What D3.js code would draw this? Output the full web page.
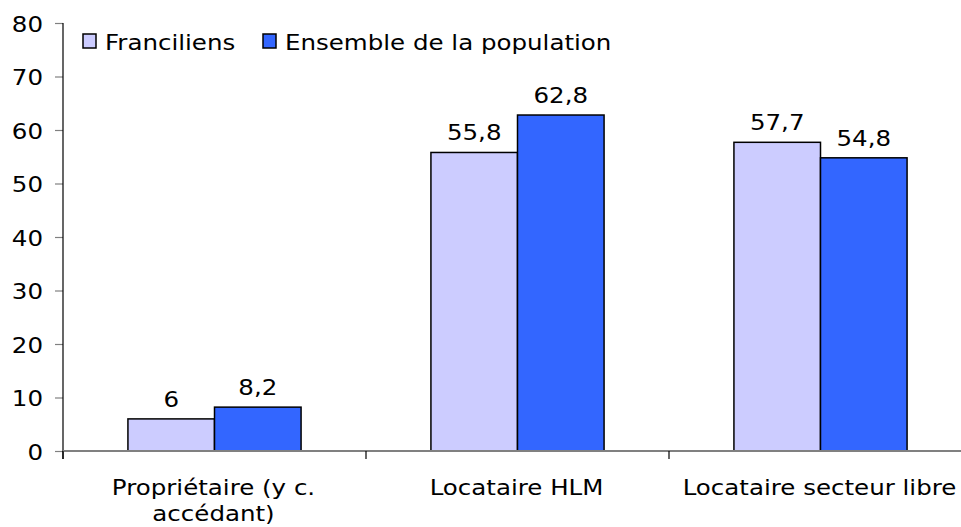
<!DOCTYPE html>
<html>
<head>
<meta charset="utf-8">
<script src="https://cdn.jsdelivr.net/npm/d3@7"></script>
<style>
  html, body { margin: 0; padding: 0; background: #fff; }
  svg text { font-family: "DejaVu Sans", Verdana, sans-serif; fill: #000; font-size: 21.5px; }
</style>
</head>
<body>
<svg id="chart" width="961" height="527"></svg>
<script>
// Statut d'occupation du logement
const categories = [["Propriétaire (y c.", "accédant)"], ["Locataire HLM"], ["Locataire secteur libre"]];
const seriesNames = ["Franciliens", "Ensemble de la population"];
const franciliens = [6, 55.8, 57.7];
const ensemble = [8.2, 62.8, 54.8];
const yTicks = [0, 10, 20, 30, 40, 50, 60, 70, 80];
const colors = ["#CCCCFF", "#3366FF"];

const svg = d3.select("#chart");
const plotLeft = 63, plotTop = 23, plotBottom = 451, step = 303;
const plotRight = plotLeft + step * categories.length;
const stretch = 1.14; // wide glyphs

const x0 = d3.scaleBand().domain(d3.range(categories.length)).range([plotLeft, plotRight]).paddingInner(0).paddingOuter(0);
const x1 = d3.scaleBand().domain(d3.range(seriesNames.length)).range([0, x0.bandwidth()]).paddingInner(0).paddingOuter(0.75);
const y = d3.scaleLinear().domain([0, 80]).range([plotBottom, plotTop]);

const values = [franciliens, ensemble];

// places a horizontally widened text at (x, y)
function wide(sel, fx, fy) {
  sel.attr("transform", (d, i) => `translate(${fx(d, i)},${fy(d, i)}) scale(${stretch},1)`);
  return sel;
}

// Bars
const groups = svg.append("g").selectAll("g").data(categories).join("g")
  .attr("transform", (d, i) => `translate(${x0(i)},0)`);
groups.selectAll("rect")
  .data((d, i) => values.map((s, k) => ({ k, v: s[i] })))
  .join("rect")
  .attr("x", d => x1(d.k))
  .attr("y", d => y(d.v))
  .attr("width", x1.bandwidth())
  .attr("height", d => y(0) - y(d.v))
  .attr("fill", d => colors[d.k])
  .attr("stroke", "#000")
  .attr("stroke-width", 1.5);

// Value labels
wide(groups.selectAll("text.val")
  .data((d, i) => values.map((s, k) => ({ k, v: s[i] })))
  .join("text")
  .attr("class", "val")
  .attr("text-anchor", "middle")
  .text(d => String(d.v).replace(".", ",")),
  d => x1(d.k) + x1.bandwidth() / 2, d => y(d.v) - 12);

// Y axis
const yAxis = svg.append("g").attr("transform", `translate(${plotLeft},0)`)
  .call(d3.axisLeft(y).tickValues(yTicks).tickSize(8).tickFormat(d3.format("d")));
yAxis.select(".domain").remove();
yAxis.attr("font-family", null).attr("font-size", null);
yAxis.selectAll(".tick line").attr("stroke", "#808080").attr("stroke-width", 1.2);
yAxis.selectAll(".tick text")
  .attr("x", 0).attr("dy", null)
  .attr("transform", `translate(-20,8) scale(${stretch},1)`);
svg.append("line")
  .attr("x1", plotLeft).attr("x2", plotLeft).attr("y1", plotTop).attr("y2", plotBottom + 8)
  .attr("stroke", "#000").attr("stroke-width", 1.2);

// X axis
svg.append("line")
  .attr("x1", plotLeft).attr("x2", 961).attr("y1", plotBottom).attr("y2", plotBottom)
  .attr("stroke", "#808080").attr("stroke-width", 2);
svg.append("g").selectAll("line").data(d3.range(categories.length))
  .join("line")
  .attr("x1", i => x0(i)).attr("x2", i => x0(i))
  .attr("y1", plotBottom).attr("y2", plotBottom + 8)
  .attr("stroke", "#000").attr("stroke-width", 1.2);

const catLabels = wide(svg.append("g").selectAll("text").data(categories).join("text")
  .attr("text-anchor", "middle"),
  (d, i) => x0(i) + x0.bandwidth() / 2 - 1, () => 495);
catLabels.selectAll("tspan").data(d => d).join("tspan")
  .attr("x", 0)
  .attr("y", (d, j) => j * 26)
  .text(d => d);

// Legend
const legendX = [83, 263];
const legend = svg.append("g").selectAll("g").data(seriesNames).join("g")
  .attr("transform", (d, i) => `translate(${legendX[i]},34)`);
legend.append("rect")
  .attr("width", 13).attr("height", 14)
  .attr("fill", (d, i) => colors[i])
  .attr("stroke", "#000").attr("stroke-width", 1.5);
wide(legend.append("text").text(d => d), () => 22, () => 16);
</script>
</body>
</html>
